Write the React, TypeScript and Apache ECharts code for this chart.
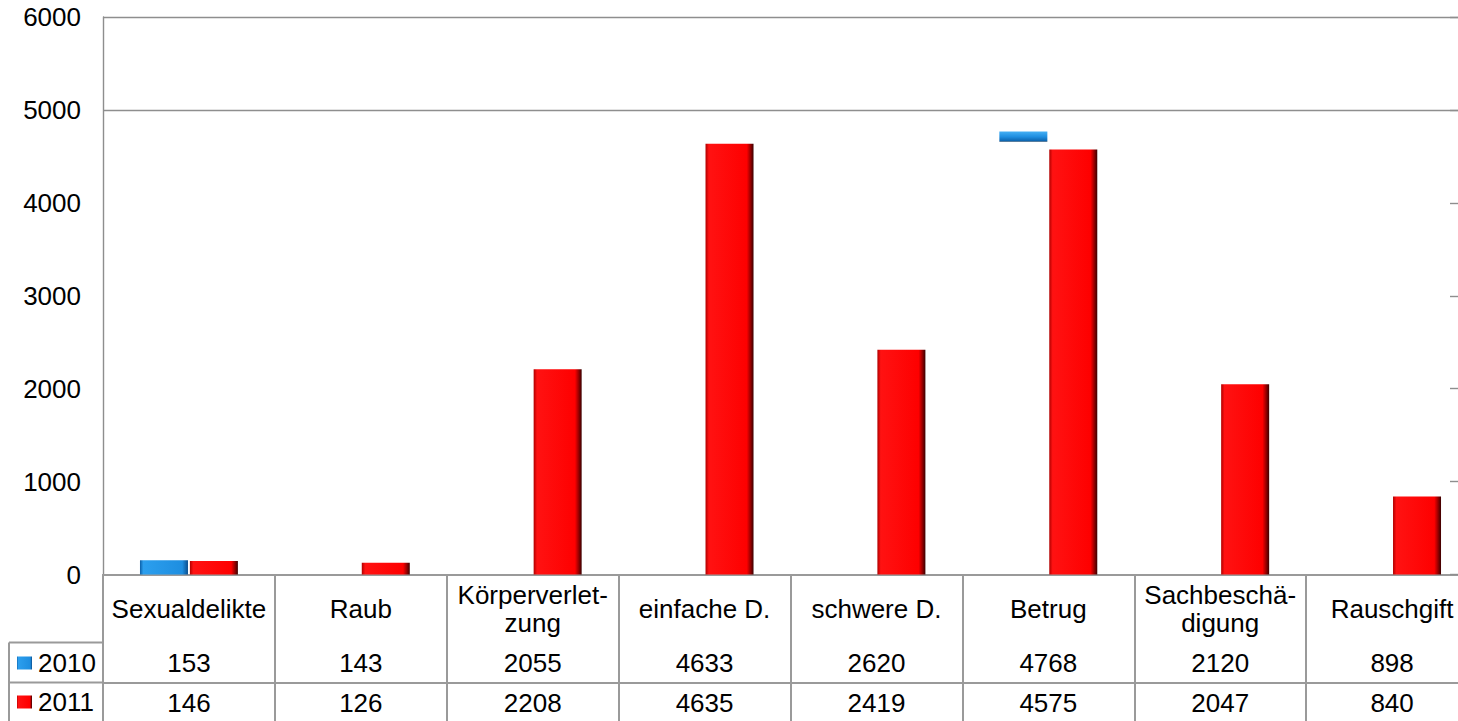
import React, { useEffect, useRef } from "react";
import * as echarts from "echarts";

const categories = [
  "Sexualdelikte",
  "Raub",
  "Körperverlet-\nzung",
  "einfache D.",
  "schwere D.",
  "Betrug",
  "Sachbeschä-\ndigung",
  "Rauschgift",
];
const seriesNames = ["2010", "2011"];
const values2010 = [153, 143, 2055, 4633, 2620, 4768, 2120, 898];
const values2011 = [146, 126, 2208, 4635, 2419, 4575, 2047, 840];
const yMin = 0;
const yMax = 6000;
const yInterval = 1000;

// how each 2010 bar shows up in the reference picture
const look2010 = ["full", "none", "none", "none", "none", "cap", "none", "none"];

const FONT = "'Liberation Sans', Arial, sans-serif";
const GRID = "#8e8e8e";
const TABLE = "#9a9a9a";

const redFill = new echarts.graphic.LinearGradient(0, 0, 1, 0, [
  { offset: 0, color: "#b00000" },
  { offset: 0.07, color: "#ff1212" },
  { offset: 0.86, color: "#fe0000" },
  { offset: 0.93, color: "#a00000" },
  { offset: 1, color: "#3a0000" },
]);
const blueFill = new echarts.graphic.LinearGradient(0, 0, 1, 0, [
  { offset: 0, color: "#0b5fa8" },
  { offset: 0.07, color: "#2c9fee" },
  { offset: 0.88, color: "#1e8ee0" },
  { offset: 1, color: "#0a4f8f" },
]);
const blueCap = new echarts.graphic.LinearGradient(0, 0, 0, 1, [
  { offset: 0, color: "#45b0f5" },
  { offset: 0.012, color: "#1e8ee0" },
  { offset: 0.0226, color: "#0b5fa8" },
  { offset: 0.0227, color: "rgba(0,0,0,0)" },
  { offset: 1, color: "rgba(0,0,0,0)" },
]);

export default function App() {
  const ref = useRef<HTMLDivElement>(null);
  useEffect(() => {
    if (!ref.current) return;
    const chart = echarts.init(ref.current, undefined, { renderer: "svg" });
    const data2010 = values2010.map((v, i) => ({
      value: v,
      itemStyle: {
        color:
          look2010[i] === "full" ? blueFill : look2010[i] === "cap" ? blueCap : "rgba(0,0,0,0)",
      },
    }));
    const tableLabel = {
      fontSize: 26,
      color: "#000",
      fontFamily: FONT,
      verticalAlign: "middle" as const,
      interval: 0,
      margin: 20,
    };
    chart.setOption({
      animation: false,
      grid: { left: 103, top: 17, right: 0, bottom: 146.5, containLabel: false },
      legend: {
        orient: "vertical",
        left: 17,
        top: 650,
        padding: 0,
        itemWidth: 15,
        itemHeight: 13,
        itemGap: 13,
        icon: "rect",
        textStyle: { fontSize: 26, lineHeight: 25, color: "#000", fontFamily: FONT, padding: [0, 0, 0, 1] },
        data: seriesNames,
      },
      xAxis: [
        {
          type: "category",
          data: categories,
          position: "bottom",
          axisLine: { show: true, lineStyle: { color: TABLE, width: 2 } },
          axisTick: { show: true, alignWithLabel: false, interval: 0, length: 147, lineStyle: { color: TABLE, width: 2 } },
          axisLabel: { ...tableLabel, margin: 34, lineHeight: 28 },
        },
        {
          type: "category",
          data: values2010.map(String),
          position: "bottom",
          offset: 68,
          axisLine: { show: true, lineStyle: { color: TABLE, width: 2 } },
          axisTick: { show: false },
          axisLabel: tableLabel,
        },
        {
          type: "category",
          data: values2011.map(String),
          position: "bottom",
          offset: 108,
          axisLine: { show: true, lineStyle: { color: TABLE, width: 2 } },
          axisTick: { show: false },
          axisLabel: tableLabel,
        },
      ],
      yAxis: [
        {
          type: "value",
          min: yMin,
          max: yMax,
          interval: yInterval,
          axisLine: { show: true, lineStyle: { color: GRID, width: 1.4 } },
          axisTick: { show: false },
          axisLabel: {
            fontSize: 26,
            color: "#000",
            fontFamily: FONT,
            margin: 22,
            formatter: (v: number) => String(v),
          },
          splitLine: {
            show: true,
            lineStyle: {
              width: 1.4,
              color: [
                "rgba(0,0,0,0)",
                "rgba(0,0,0,0)",
                "rgba(0,0,0,0)",
                "rgba(0,0,0,0)",
                "rgba(0,0,0,0)",
                GRID,
                GRID,
              ],
            },
          },
        },
        {
          type: "value",
          position: "right",
          offset: -28,
          min: yMin,
          max: yMax,
          interval: yInterval,
          axisLine: { show: false },
          axisTick: { show: true, length: 8, lineStyle: { color: GRID, width: 1.4 } },
          axisLabel: { show: false },
          splitLine: { show: false },
        },
      ],
      series: [
        {
          name: seriesNames[0],
          type: "bar",
          xAxisIndex: 0,
          yAxisIndex: 0,
          barWidth: 48,
          barGap: "4%",
          itemStyle: { color: blueFill },
          data: data2010,
        },
        {
          name: seriesNames[1],
          type: "bar",
          xAxisIndex: 0,
          yAxisIndex: 0,
          barWidth: 48,
          barGap: "4%",
          itemStyle: { color: redFill },
          data: values2011,
        },
      ],
      graphic: [
        { type: "line", shape: { x1: 9, y1: 642.5, x2: 103, y2: 642.5 }, style: { stroke: TABLE, lineWidth: 2 } },
        { type: "line", shape: { x1: 9, y1: 682.5, x2: 103, y2: 682.5 }, style: { stroke: TABLE, lineWidth: 2 } },
        { type: "line", shape: { x1: 9, y1: 642.5, x2: 9, y2: 721 }, style: { stroke: TABLE, lineWidth: 2 } },
      ],
    });
    return () => chart.dispose();
  }, []);
  return (
    <div
      style={{
        position: "fixed",
        left: 0,
        top: 0,
        width: 1458,
        height: 721,
        overflow: "hidden",
        background: "#fff",
      }}
    >
      <div ref={ref} style={{ width: 1478, height: 721 }} />
    </div>
  );
}
